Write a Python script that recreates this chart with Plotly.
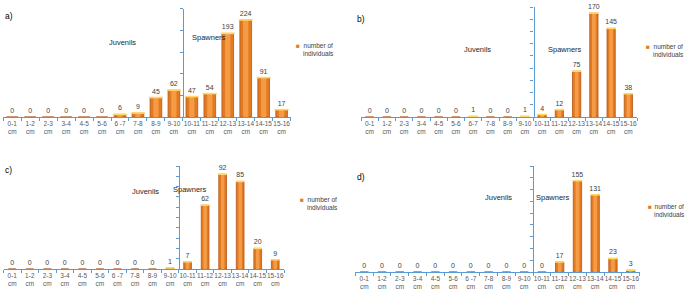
import plotly.graph_objects as go

W, H = 685, 293

# ---------------- data ----------------
size_classes_a = ["0-1", "1-2", "2-3", "3-4", "4-5", "5-6", "6 -7", "7-8", "8-9", "9-10",
                  "10-11", "11-12", "12-13", "13-14", "14-15", "15-16"]
size_classes_b = ["0-1", "1-2", "2-3", "3-4", "4-5", "5-6", "6-7", "7-8", "8-9", "9-10",
                  "10-11", "11-12", "12-13", "13-14", "14-15", "15-16"]
size_classes_c = size_classes_a
size_classes_d = size_classes_a

counts_a = [0, 0, 0, 0, 0, 0, 6, 9, 45, 62, 47, 54, 193, 224, 91, 17]
counts_b = [0, 0, 0, 0, 0, 0, 1, 0, 0, 1, 4, 12, 75, 170, 145, 38]
counts_c = [0, 0, 0, 0, 0, 0, 0, 0, 0, 1, 7, 62, 92, 85, 20, 9]
counts_d = [0, 0, 0, 0, 0, 0, 0, 0, 0, 0, 0, 17, 155, 131, 23, 3]

panel_letters = ["a)", "b)", "c)", "d)"]
group_labels = ["Juvenils", "Spawners"]
legend_label = "number of<br>individuals"

# ---------------- styling / layout (pixels) ----------------
FONT = "Liberation Sans Narrow, Liberation Sans, Arial, sans-serif"
AXIS_BLUE = "#5B9BD5"
BAR_FILL = "#E27A22"
BAR_HIGHLIGHT = "#F59B45"
BAR_EDGE = "#B5561A"
CAP = "#FFD966"

panels = [
    dict(labels=size_classes_a, vals=counts_a, x0=3.3, x1=290.6, ay=117, ty=8.7, ymax=250, dtick=50, gap=0.35,
         letter=(4, 16), juv=(122, 43), spa=(209, 37), sq=(298, 45.5), leg=(301.5, 49.5)),
    dict(labels=size_classes_b, vals=counts_b, x0=361, x1=637, ay=117, ty=7, ymax=180, dtick=20, gap=0.52,
         letter=(356, 19), juv=(478, 50), spa=(565, 49), sq=(648, 46.5), leg=(651.5, 50.5)),
    dict(labels=size_classes_c, vals=counts_c, x0=3.5, x1=284, ay=269, ty=166, ymax=100, dtick=10, gap=0.56,
         letter=(4, 170), juv=(145, 191), spa=(190, 189), sq=(302, 199), leg=(305.5, 203.5)),
    dict(labels=size_classes_d, vals=counts_d, x0=355.4, x1=639.6, ay=272, ty=166, ymax=180, dtick=20, gap=0.53,
         letter=(356, 177), juv=(498, 198), spa=(553, 197), sq=(649.5, 206), leg=(653, 210)),
]

fig = go.Figure()
annotations = []


def ann(text, pos, size=7.5, xanchor="center", color="#262626", align="center"):
    annotations.append(dict(
        text=text, x=pos[0] / W, y=1 - pos[1] / H, xref="paper", yref="paper",
        xanchor=xanchor, yanchor="middle", showarrow=False, align=align,
        font=dict(family=FONT, size=size, color=color), borderpad=0,
    ))


for i, p in enumerate(panels, start=1):
    sfx = "" if i == 1 else str(i)
    xref, yref = "x" + sfx, "y" + sfx
    cats = [f"{l}<br>cm" for l in p["labels"]]
    vals = p["vals"]
    cat_w = (p["x1"] - p["x0"]) / len(cats)
    bar_w = 1 - p["gap"]
    bar_px = cat_w * bar_w

    # main bar (darker edges) with value labels
    fig.add_trace(go.Bar(
        x=cats, y=vals, xaxis=xref, yaxis=yref, width=bar_w,
        marker=dict(color=BAR_FILL, line=dict(color=BAR_EDGE, width=0.8)),
        text=[str(v) for v in vals], textposition="outside", constraintext="none",
        textfont=dict(family=FONT, size=7, color="#404040"),
        cliponaxis=False, showlegend=False, hoverinfo="x+y",
    ))
    # lighter centre to mimic the cylinder-like shading
    fig.add_trace(go.Bar(
        x=cats, y=vals, xaxis=xref, yaxis=yref, width=bar_w * 0.45,
        marker=dict(color=BAR_HIGHLIGHT, line=dict(width=0)),
        showlegend=False, hoverinfo="skip",
    ))
    # yellow top cap
    fig.add_trace(go.Scatter(
        x=cats, y=[v if v > 0 else None for v in vals], xaxis=xref, yaxis=yref,
        mode="markers",
        marker=dict(symbol="line-ew", size=bar_px - 1.5, line=dict(color=CAP, width=1.6)),
        showlegend=False, hoverinfo="skip", cliponaxis=False,
    ))

    div_px = p["x0"] + 10 * cat_w
    fig.layout["xaxis" + sfx] = dict(
        domain=[p["x0"] / W, p["x1"] / W], anchor=yref, type="category",
        range=[-0.5, len(cats) - 0.5], showline=True, linecolor=AXIS_BLUE, linewidth=1.2,
        ticks="outside", tickson="boundaries", ticklen=3, tickcolor=AXIS_BLUE, tickwidth=1,
        tickfont=dict(family=FONT, size=6.5, color="#595959"), tickangle=0,
        showgrid=False, zeroline=False, fixedrange=True,
    )
    fig.layout["yaxis" + sfx] = dict(
        domain=[1 - p["ay"] / H, 1 - p["ty"] / H], anchor="free", position=div_px / W,
        range=[0, p["ymax"]], dtick=p["dtick"], showline=True, linecolor=AXIS_BLUE, linewidth=1.2,
        ticks="outside", ticklen=3, tickcolor=AXIS_BLUE, showticklabels=False,
        showgrid=False, zeroline=False, fixedrange=True,
    )

    ann(panel_letters[i - 1], p["letter"], size=8.5, xanchor="left", color="#000000")
    ann(group_labels[0], p["juv"])
    ann(group_labels[1], p["spa"])
    ann("■", p["sq"], size=6.5, color=BAR_FILL)
    ann(legend_label, p["leg"], size=6.5, xanchor="left", color="#404040")

fig.update_layout(
    width=W, height=H, autosize=False,
    margin=dict(l=0, r=0, t=0, b=0),
    paper_bgcolor="white", plot_bgcolor="rgba(0,0,0,0)",
    barmode="overlay",
    annotations=annotations,
    font=dict(family=FONT),
)

fig.write_html("out.html", config={"displayModeBar": False},
               post_script="document.body.style.margin='0';")
